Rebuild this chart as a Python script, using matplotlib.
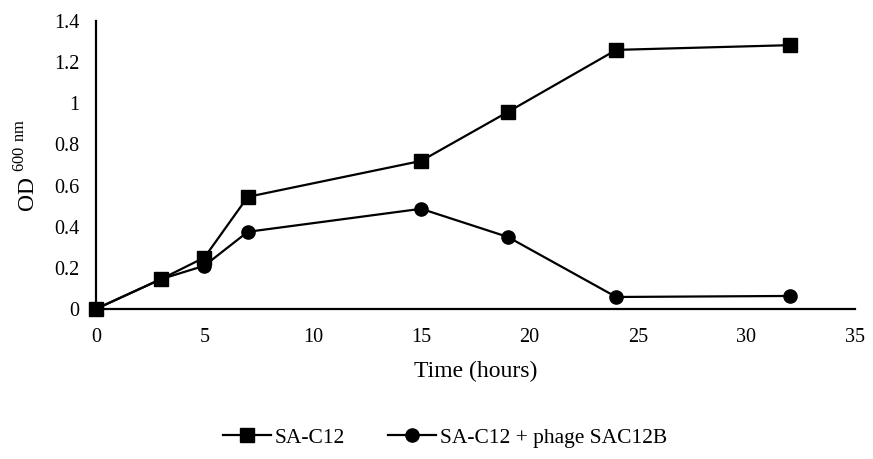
import matplotlib
matplotlib.use("Agg")
import matplotlib.pyplot as plt

# Данные: время (часы) и OD600
time_h = [0, 3, 5, 7, 15, 19, 24, 32]
od_control = [0.0, 0.145, 0.25, 0.545, 0.72, 0.958, 1.26, 1.283]
od_phage = [0.0, 0.145, 0.21, 0.375, 0.487, 0.35, 0.058, 0.063]

x_ticks = [0, 5, 10, 15, 20, 25, 30, 35]
y_ticks = [0, 0.2, 0.4, 0.6, 0.8, 1.0, 1.2, 1.4]
y_tick_labels = ['0', '0.2', '0.4', '0.6', '0.8', '1', '1.2', '1.4']

plt.rcParams['font.family'] = ['Liberation Serif']
plt.rcParams['mathtext.fontset'] = 'custom'
plt.rcParams['mathtext.rm'] = 'Liberation Serif'

fig = plt.figure(figsize=(8.73, 4.59), dpi=100)
ax = fig.add_axes([0.110, 0.327, 0.869, 0.627])

ax.plot(time_h, od_control, 'k-', marker='s', markersize=9.5, linewidth=1.6,
        label='SA-C12', clip_on=False, zorder=3)
ax.plot(time_h, od_phage, 'k-', marker='o', markersize=9.5, linewidth=1.6,
        label='SA-C12 + phage SAC12B', clip_on=False, zorder=3)

ax.set_xlim(0, 35)
ax.set_ylim(0, 1.4)
ax.set_xticks(x_ticks)
ax.set_yticks(y_ticks)
ax.set_yticklabels(y_tick_labels)
ax.tick_params(length=0, labelsize=14.5)
ax.tick_params(axis='x', pad=14)
ax.tick_params(axis='y', pad=12)

for side in ['top', 'right']:
    ax.spines[side].set_visible(False)
for side in ['left', 'bottom']:
    ax.spines[side].set_linewidth(1.6)

ax.set_xlabel('Time (hours)', fontsize=17, labelpad=10)
ax.set_ylabel(r'OD $^{\mathrm{600\ nm}}$', fontsize=17, labelpad=10)

fig.legend(loc='center', bbox_to_anchor=(0.51, 0.046), ncol=2, frameon=False,
           fontsize=15.5, handlelength=2.2, columnspacing=2.0, handletextpad=0.2)

fig.savefig('out.png', dpi=100)
